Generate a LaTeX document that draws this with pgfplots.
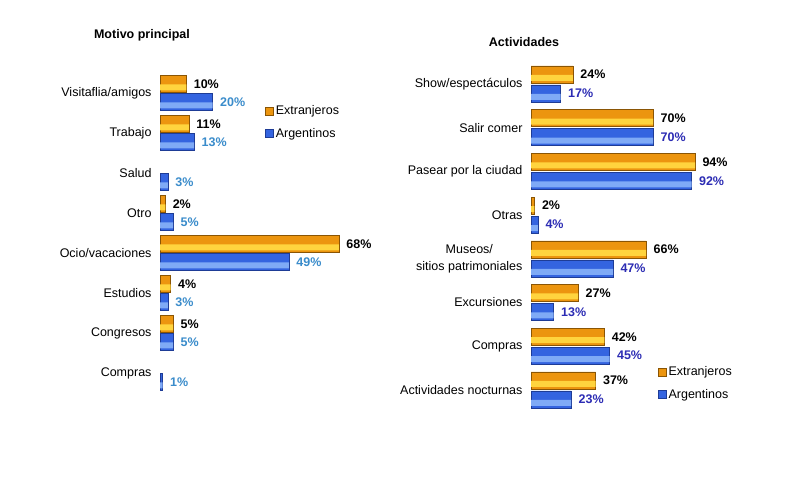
\documentclass[border=0pt]{standalone}
\usepackage{fontspec}
\setmainfont{Liberation Sans}
\usepackage{pgfplots}
\pgfplotsset{compat=1.18}
\definecolor{orA}{HTML}{EC950F}
\definecolor{orB}{HTML}{FFD43E}
\definecolor{orD}{HTML}{8A5504}
\definecolor{blA}{HTML}{3464E0}
\definecolor{blB}{HTML}{7FAAF6}
\definecolor{blD}{HTML}{1E3C96}
\definecolor{lblL}{HTML}{3A8CCB}
\definecolor{lblR}{HTML}{2C2CB4}
\begin{document}
\begin{tikzpicture}
\useasboundingbox (0pt,0pt) rectangle (800pt,481pt);
\fill[white] (0pt,0pt) rectangle (800pt,481pt);
\pgfplotsset{
 common/.style={
  xbar, bar width=17pt, scale only axis, clip=false,
  xmin=0, y dir=reverse, ytick={0,...,7}, xtick=\empty,
  axis lines=left, axis line style={draw=none}, major tick length=0pt,
  ymin=-0.5, ymax=7.5,
  /pgf/number format/assume math mode=true,
  tick label style={font=\fontsize{12.5}{17}\selectfont},
  yticklabel style={align=center, xshift=-5pt},
  legend style={draw=none, fill=none, font=\fontsize{12.5}{14}\selectfont, row sep=8pt, inner sep=0pt},
  legend cell align=left,
  legend image code/.code={\draw[##1] (0pt,-4pt) rectangle (8pt,4pt);}
 },
 lab/.style={nodes near coords={\pgfmathprintnumber{\pgfplotspointmeta}\%},
  nodes near coords align=horizontal,
  every node near coord/.append style={font=\bfseries\fontsize{12.5}{14}\selectfont, xshift=4pt, text=#1}},
 ext/.style={draw=orD, fill=orA},
 arg/.style={draw=blD, fill=blA},
 hext/.style={draw=none, fill=orB, bar width=6pt, forget plot},
 harg/.style={draw=none, fill=blB, bar width=6pt, forget plot},
}
\node[font=\bfseries\fontsize{12.5}{14}\selectfont] at (142pt,446pt) {Motivo principal};
\node[font=\bfseries\fontsize{12.5}{14}\selectfont] at (524pt,439pt) {Actividades};
\begin{axis}[common, at={(160pt,408pt)}, anchor=north west, width=210.4pt, height=320pt, xmax=80,
  yticklabels={Visitaflia/amigos,Trabajo,Salud,Otro,Ocio/vacaciones,Estudios,Congresos,Compras},
  legend style={at={(axis description cs:0.5,0.905)}, anchor=north west}]
\addplot[ext, bar shift=9pt, lab=black] coordinates {(10,0) (11,1) (2,3) (68,4) (4,5) (5,6)};
\addplot[arg, bar shift=-9pt, lab=lblL] coordinates {(20,0) (13,1) (3,2) (5,3) (49,4) (3,5) (5,6) (1,7)};
\addplot[hext, bar shift=5.5pt] coordinates {(10,0) (11,1) (2,3) (68,4) (4,5) (5,6)};
\addplot[harg, bar shift=-12.5pt] coordinates {(20,0) (13,1) (3,2) (5,3) (49,4) (3,5) (5,6) (1,7)};
\legend{Extranjeros,Argentinos}
\end{axis}
\begin{axis}[common, at={(531pt,418.85pt)}, anchor=north west, width=183.2pt, height=349.6pt, xmax=105,
  yticklabels={Show/espectáculos,Salir comer,Pasear por la ciudad,Otras,{Museos/\\sitios patrimoniales},Excursiones,Compras,Actividades nocturnas},
  legend style={at={(axis description cs:0.693,0.135)}, anchor=north west}]
\addplot[ext, bar shift=9.5pt, lab=black] coordinates {(24,0) (70,1) (94,2) (2,3) (66,4) (27,5) (42,6) (37,7)};
\addplot[arg, bar shift=-9.5pt, lab=lblR] coordinates {(17,0) (70,1) (92,2) (4,3) (47,4) (13,5) (45,6) (23,7)};
\addplot[hext, bar shift=6pt] coordinates {(24,0) (70,1) (94,2) (2,3) (66,4) (27,5) (42,6) (37,7)};
\addplot[harg, bar shift=-13pt] coordinates {(17,0) (70,1) (92,2) (4,3) (47,4) (13,5) (45,6) (23,7)};
\legend{Extranjeros,Argentinos}
\end{axis}
\end{tikzpicture}
\end{document}
